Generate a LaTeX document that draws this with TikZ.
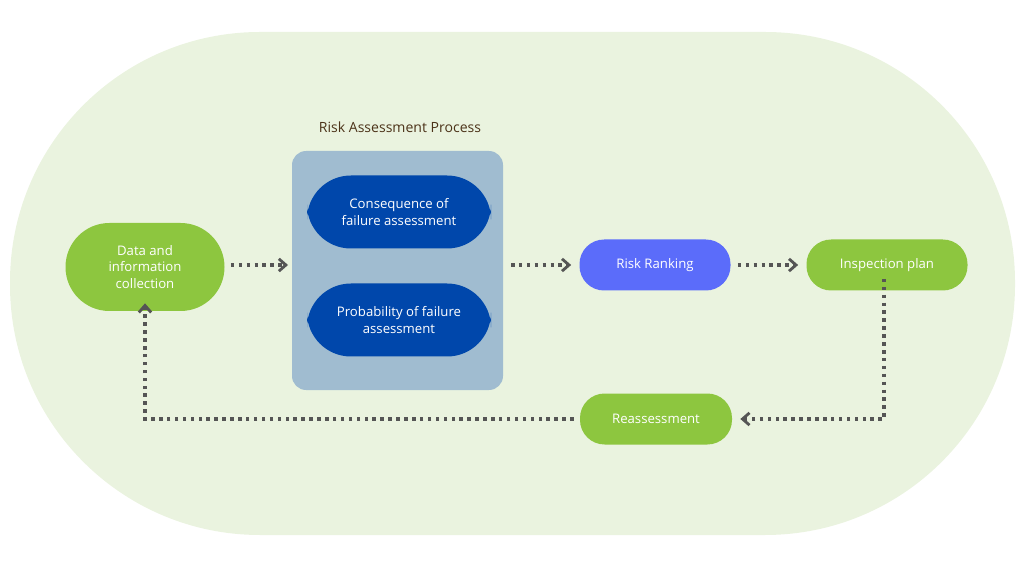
\documentclass[tikz,border=0pt]{standalone}
\usepackage{fontspec}
\setmainfont{Open Sans}
\usetikzlibrary{arrows.meta,positioning}
\definecolor{bgreen}{HTML}{EAF3DF}
\definecolor{leaf}{HTML}{8DC63F}
\definecolor{navy}{HTML}{0047AB}
\definecolor{steel}{HTML}{A0BCD0}
\definecolor{violet}{HTML}{5B6CFA}
\definecolor{dots}{HTML}{555555}
\tikzset{
  pill/.style={rounded corners=25pt, text=white, align=center, font=\fontsize{7.5}{9.5}\selectfont},
  flow/.style={dots, line width=2pt, dash pattern=on 2pt off 2.5pt, -{Straight Barb[length=4pt,width=7pt,line width=1.6pt]}}
}
\begin{document}
\begin{tikzpicture}[x=0.02cm,y=-0.02cm]
        \useasboundingbox (0,0) rectangle (1024,567);
        % Background
        \fill[bgreen, rounded corners=250*0.02cm] (10,32) rectangle (1015,535);
        % Group box
        \fill[steel, rounded corners=8pt] (292,151) rectangle (503,390);
        \node[text=black!60!brown, font=\fontsize{8}{10}\selectfont] (title) at (400,127) {Risk Assessment Process};
        % Nodes
        \node[pill, fill=navy, minimum width=184*0.02cm, minimum height=73*0.02cm] (cons) at (399,212) {Consequence of\\failure assessment};
        \node[pill, fill=navy, minimum width=184*0.02cm, minimum height=73*0.02cm] (prob) at (399,320) {Probability of failure\\assessment};
        \node[pill, fill=leaf, minimum width=159*0.02cm, minimum height=88*0.02cm] (data) at (145,267) {Data and\\information\\collection};
        \node[pill, fill=violet, rounded corners=14pt, minimum width=151*0.02cm, minimum height=51*0.02cm] (rank) at (655,265) {Risk Ranking};
        \node[pill, fill=leaf, rounded corners=14pt, minimum width=161*0.02cm, minimum height=51*0.02cm] (insp) at (887,265) {Inspection plan};
        \node[pill, fill=leaf, rounded corners=14pt, minimum width=152*0.02cm, minimum height=51*0.02cm] (reas) at (656,419) {Reassessment};
        \coordinate (grpL) at (292,265);
        \coordinate (grpR) at (503,265);
        % Connectors
        \draw[flow] ([xshift=6*0.02cm]data.east |- grpL) -- ([xshift=-4*0.02cm]grpL);
        \draw[flow] ([xshift=8*0.02cm]grpR) -- ([xshift=-8*0.02cm]rank.west);
        \draw[flow] ([xshift=7*0.02cm]rank.east) -- ([xshift=-8*0.02cm]insp.west);
        \draw[flow] ([yshift=12*0.02cm]insp.south -| 884,0) |- ([xshift=8*0.02cm]reas.east);
        \draw[flow] ([xshift=-6*0.02cm]reas.west) -| ([yshift=8*0.02cm]data.south);
\end{tikzpicture}
\end{document}
